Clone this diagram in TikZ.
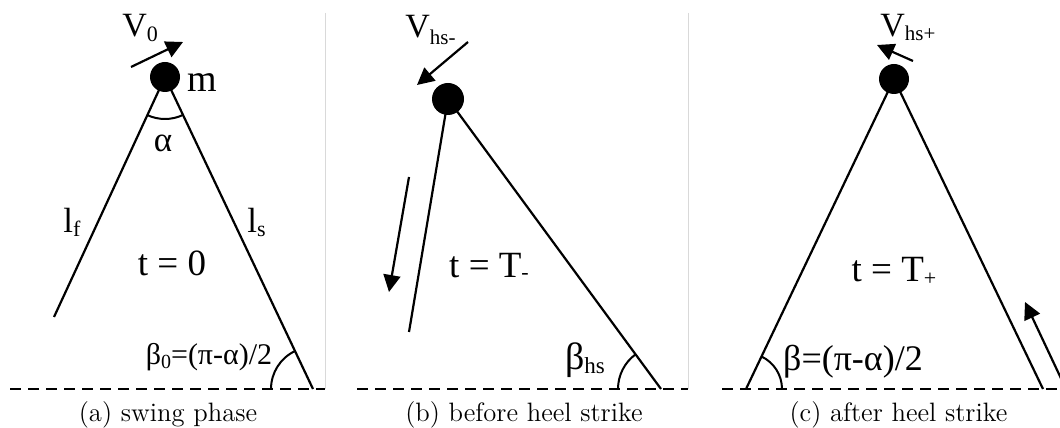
\documentclass[tikz,border=0pt]{standalone}
\usepackage{fontspec}
\newfontfamily\tnr{Liberation Serif}
\usetikzlibrary{arrows.meta}
\newcommand\lsub[3]{\raisebox{-#2}{\fontsize{#1}{#1}\selectfont #3}}
\begin{document}
\begin{tikzpicture}[x=0.5pt,y=0.5pt,
  leg/.style={line width=1.1pt},
  ground/.style={line width=0.9pt, dash pattern=on 5.5pt off 3.5pt},
  sepline/.style={line width=0.4pt, black!15},
  mass/.style={circle, fill=black, inner sep=0pt, minimum size=15pt},
  lbl/.style={font=\tnr\fontsize{17.5}{19}\selectfont, inner sep=0pt},
  tlbl/.style={font=\tnr\fontsize{18.5}{20}\selectfont, inner sep=0pt, anchor=base},
  captext/.style={font=\fontsize{13.3}{15}\selectfont, inner sep=0pt, anchor=base},
  vel/.style={line width=1.1pt, -{Triangle[length=8.5pt,width=8.5pt]}},
  ang/.style={line width=1pt}]
\useasboundingbox (0,0) rectangle (1060,428);
\clip (0,0) rectangle (1060,428);

% ---------- panel (a) ----------
\coordinate (ca) at (165,351);
\coordinate (fa1) at (54,111);
\coordinate (fa2) at (313,39);
\coordinate (ga1) at (10,39);
\coordinate (ga2) at (325,39);
\coordinate (sa) at (325,415);
\draw[sepline] (sa) -- (ga2);
\draw[ground] (ga1) -- (ga2);
\draw[leg] (ca) -- (fa1);
\draw[leg] (ca) -- (fa2);
\node[mass] (ma) at (ca) {};
\draw[ang] ([shift={(244.7:42)}]ca) arc[start angle=244.7, end angle=295.5, radius=42];
\draw[ang] ([shift={(115.5:42)}]fa2) arc[start angle=115.5, end angle=180, radius=42];
\coordinate (va1) at (131,361);
\coordinate (va2) at (183,386);
\draw[vel] (va1) -- (va2);
\node[lbl, font=\tnr\fontsize{17}{19}\selectfont, anchor=base west] (lv0) at (122,391) {V\lsub{11}{2.5pt}{0}};
\node[lbl, font=\tnr\fontsize{19}{19}\selectfont, anchor=base west] (lm) at (187,336) {m};
\node[lbl] (lal) at (163,285) {α};
\node[lbl, anchor=base west] (llf) at (63,195) {l\lsub{11}{2pt}{f}};
\node[lbl, anchor=base west] (lls) at (247,195) {l\lsub{11}{2pt}{s}};
\node[tlbl] (lt0) at (172,152) {t = 0};
\node[lbl, font=\tnr\fontsize{15}{17}\selectfont] (lb0) at (209,71) {β\lsub{10}{2pt}{0}=(π-α)/2};
\node[captext] (capa) at (168,6) {(a) swing phase};

% ---------- panel (b) ----------
\coordinate (cb) at (448,329);
\coordinate (fb1) at (409,96);
\coordinate (fb2) at (661,39);
\coordinate (gb1) at (357,39);
\coordinate (gb2) at (688,39);
\coordinate (sb) at (688,415);
\draw[sepline] (sb) -- (gb2);
\draw[ground] (gb1) -- (gb2);
\draw[leg] (cb) -- (fb1);
\draw[leg] (cb) -- (fb2);
\node[mass, minimum size=16pt] (mb) at (cb) {};
\draw[ang] ([shift={(126.3:43)}]fb2) arc[start angle=126.3, end angle=180, radius=43];
\coordinate (vb1) at (468,386);
\coordinate (vb2) at (417,343);
\draw[vel] (vb1) -- (vb2);
\coordinate (wb1) at (409,251);
\coordinate (wb2) at (389,136);
\draw[vel] (wb1) -- (wb2);
\node[lbl, font=\tnr\fontsize{17}{19}\selectfont, anchor=base west] (lvb) at (405,390) {V\lsub{10.5}{3.5pt}{hs-}};
\node[tlbl] (ltb) at (489,150) {t = T\lsub{11}{1pt}{-}};
\node[lbl, font=\tnr\fontsize{19}{20}\selectfont] (lbb) at (585,68) {β\lsub{11.5}{2pt}{hs}};
\node[captext] (capb) at (524,6) {(b) before heel strike};

% ---------- panel (c) ----------
\coordinate (cc) at (894,349);
\coordinate (fc1) at (746,39);
\coordinate (fc2) at (1043,39);
\coordinate (gc1) at (722,39);
\coordinate (gc2) at (1060,39);
\draw[ground] (gc1) -- (gc2);
\draw[leg] (cc) -- (fc1);
\draw[leg] (cc) -- (fc2);
\node[mass] (mc) at (cc) {};
\draw[ang] ([shift={(0:36)}]fc1) arc[start angle=0, end angle=64.5, radius=36];
\coordinate (vc1) at (913,367);
\coordinate (vc2) at (877,383);
\draw[vel] (vc1) -- (vc2);
\coordinate (wc1) at (1066,39);
\coordinate (wc2) at (1025,126);
\draw[vel] (wc1) -- (wc2);
\node[lbl, font=\tnr\fontsize{17}{19}\selectfont, anchor=base west] (lvc) at (880,391) {V\lsub{10.5}{2pt}{hs+}};
\node[tlbl] (ltc) at (894,146) {t = T\lsub{11}{2pt}{+}};
\node[lbl, font=\tnr\fontsize{18}{20}\selectfont] (lbc) at (853,66) {β=(π-α)/2};
\node[captext] (capc) at (898.5,6) {(c) after heel strike};
\end{tikzpicture}
\end{document}
